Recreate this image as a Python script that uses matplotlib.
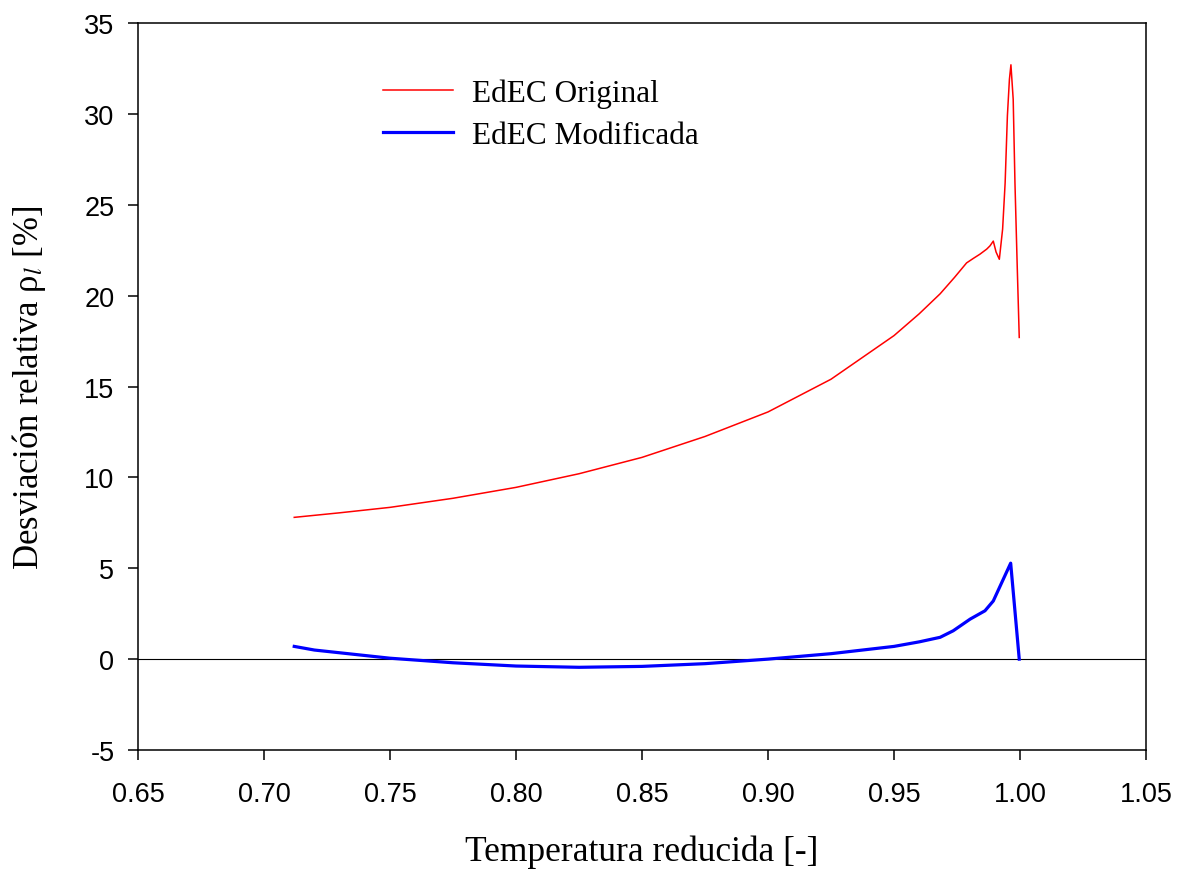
import matplotlib
matplotlib.use('Agg')
import matplotlib.pyplot as plt

# Reduced temperature and relative deviation (%)
t_original = [0.712, 0.730, 0.750, 0.775, 0.800, 0.825, 0.850, 0.875, 0.900,
              0.925, 0.950, 0.960, 0.9683, 0.9740, 0.9788, 0.9815, 0.9841,
              0.9868, 0.9881, 0.9894, 0.9905, 0.9918, 0.9931, 0.9941, 0.9950,
              0.9958, 0.9964, 0.9973, 0.9980, 0.9989, 0.9997]
dev_original = [7.8, 8.05, 8.35, 8.85, 9.45, 10.2, 11.1, 12.25, 13.6,
                15.4, 17.8, 19.0, 20.1, 21.0, 21.8, 22.05, 22.28,
                22.56, 22.74, 23.0, 22.4, 22.0, 23.66, 26.2, 29.9,
                31.9, 32.7, 30.8, 26.2, 21.6, 17.7]

t_modified = [0.712, 0.720, 0.750, 0.775, 0.800, 0.825, 0.850, 0.875, 0.900,
              0.925, 0.950, 0.960, 0.9683, 0.9735, 0.9802, 0.9861, 0.9894,
              0.9963, 0.9997]
dev_modified = [0.7, 0.5, 0.05, -0.2, -0.38, -0.45, -0.4, -0.25, 0.0,
                0.3, 0.7, 0.95, 1.2, 1.56, 2.2, 2.66, 3.2,
                5.28, 0.0]

x_ticks = [0.65, 0.70, 0.75, 0.80, 0.85, 0.90, 0.95, 1.00, 1.05]
y_ticks = [-5, 0, 5, 10, 15, 20, 25, 30, 35]

plt.rcParams['mathtext.fontset'] = 'stix'

fig = plt.figure(figsize=(11.78, 8.70), dpi=100)
ax = fig.add_axes([138 / 1178, 1 - 751 / 870, (1146 - 138) / 1178, (751 - 24) / 870])

ax.axhline(0, color='black', lw=0.8, zorder=1)
ax.plot(t_original, dev_original, color='#ff0000', lw=1.1, label='EdEC Original')
ax.plot(t_modified, dev_modified, color='#0000ff', lw=2.3, label='EdEC Modificada')

ax.set_xlim(0.65, 1.05)
ax.set_ylim(-5, 35)
ax.set_xticks(x_ticks)
ax.set_xticklabels([f'{v:.2f}' for v in x_ticks])
ax.set_yticks(y_ticks)
ax.set_yticklabels([str(v) for v in y_ticks])
ax.tick_params(direction='out', length=7, width=1.1, labelsize=19.5)
ax.tick_params(axis='x', pad=15)
ax.tick_params(axis='y', pad=10)
for lbl in ax.get_xticklabels() + ax.get_yticklabels():
    lbl.set_family('Liberation Sans')
for s in ax.spines.values():
    s.set_linewidth(1.1)

ax.set_xlabel('Temperatura reducida [-]', family='Liberation Serif', fontsize=25.5, labelpad=20)
ax.set_ylabel('Desviación relativa ρ$_{l}$ [%]', family='Liberation Serif', fontsize=25, labelpad=26)

leg = ax.legend(loc='upper left', bbox_to_anchor=(0.215, 0.962), frameon=False,
                prop={'family': 'Liberation Serif', 'size': 22.5},
                handlelength=2.25, handletextpad=0.6, labelspacing=0.41)

fig.savefig('out.png', dpi=100)
